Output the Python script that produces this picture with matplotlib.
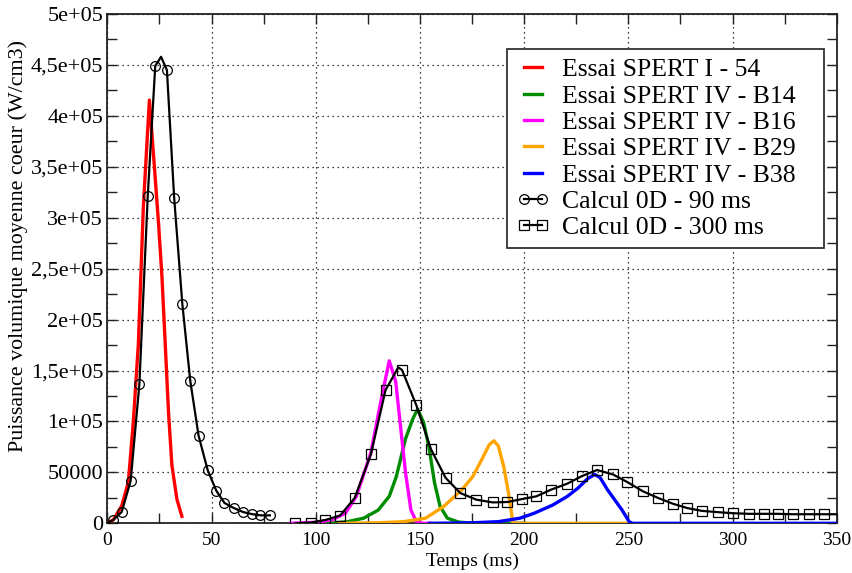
import matplotlib
matplotlib.use("Agg")
import matplotlib.pyplot as plt
from matplotlib.ticker import FixedLocator, MultipleLocator

plt.rcParams['font.family'] = ['Liberation Serif', 'DejaVu Serif']

# ---------------- data ----------------
t_54 = [0, 2.9, 6.9, 10.1, 12.5, 14.9, 17.3, 20.2, 22.2, 24.6, 26.2, 27.8, 29.4, 31.0, 33.4, 35.8]
p_54 = [0, 3.4e3, 17e3, 40.5e3, 100e3, 175.7e3, 310.8e3, 415.5e3, 361e3, 294e3, 243e3, 176e3, 108e3, 57e3, 23.6e3, 6.8e3]

t_b14 = [105.6, 115, 123, 130, 135.3, 138.7, 143.1, 146.6, 148.9, 151.8, 154.5, 157, 159.7, 163.2, 168.4, 175, 200]
p_b14 = [0, 1.5e3, 5e3, 13e3, 26.5e3, 46e3, 83e3, 102.6e3, 112e3, 99e3, 73e3, 40e3, 16.5e3, 5e3, 1.3e3, 0, 0]

t_b16 = [88, 100, 108, 114.3, 119.5, 126.5, 130.9, 133.5, 135.3, 138.4, 140.5, 143.1, 145.7, 148.3, 151, 155]
p_b16 = [0, 1e3, 3.5e3, 10e3, 26.5e3, 69.5e3, 116e3, 142e3, 159.5e3, 139e3, 99e3, 49.7e3, 13e3, 1.6e3, 0, 0]

t_b29 = [111.4, 130, 142.2, 152.7, 161.4, 170.2, 175.4, 179.8, 183.2, 185.5, 187.6, 190.2, 192.5, 194.2, 194.6, 250.4]
p_b29 = [0, 0.5e3, 1.6e3, 5e3, 16.5e3, 33e3, 46e3, 63e3, 77e3, 81e3, 76e3, 56e3, 30e3, 6.6e3, 0, 0]

t_b38 = [154.5, 175, 187.6, 198, 205, 213.8, 220.8, 226, 230.4, 233.9, 236.5, 240, 243.5, 247, 250.4, 252, 350]
p_b38 = [0, 0.5e3, 1.6e3, 5e3, 10e3, 18e3, 26.5e3, 34.8e3, 43.7e3, 48e3, 44.7e3, 33e3, 23e3, 13e3, 1.6e3, 0, 0]

t_90 = [0, 2.9, 6.9, 11.2, 15.4, 19.4, 23.0, 25.8, 28.6, 32.1, 36.0, 39.8, 43.8, 48.2, 52.3, 56.2,
        60.7, 65.2, 69.5, 73.5, 78.0]
p_90 = [0, 3.4e3, 11.1e3, 41.5e3, 136.8e3, 321e3, 449e3, 458e3, 445e3, 319e3, 215.5e3, 140e3, 86e3,
        52e3, 32e3, 20e3, 15e3, 11e3, 9e3, 7.8e3, 7.8e3]
mk_90 = [1, 2, 3, 4, 5, 6, 8, 9, 10, 11, 12, 13, 14, 15, 16, 17, 18, 19, 20]

t_300 = [90.2, 97.7, 104.7, 111.7, 118.7, 126.5, 133.5, 139.6, 141.4, 148.3, 155.3, 162.3, 169.3, 177.1,
         185.0, 192.0, 199.0, 205.9, 212.9, 220.8, 227.7, 235.0, 242.6, 249.6, 257.0, 264.4, 271.4,
         278.4, 285.3, 293.2, 300.2, 308.0, 315.0, 322.0, 329.0, 336.8, 343.8, 350.0]
p_300 = [0, 0.7e3, 3.3e3, 7.6e3, 24.8e3, 67.9e3, 130.7e3, 153e3, 150.6e3, 115.9e3, 72.8e3, 44.7e3,
         29.8e3, 23.2e3, 20.5e3, 20.9e3, 23.8e3, 26.5e3, 33e3, 39e3, 46.3e3, 52.3e3, 48e3, 40.4e3,
         31.4e3, 24.8e3, 19.2e3, 14.9e3, 12.2e3, 10.9e3, 9.9e3, 9.3e3, 9.3e3, 9.3e3, 8.9e3, 8.9e3,
         8.9e3, 8.9e3]
mk_300 = [i for i in range(len(t_300)) if i not in (7, len(t_300) - 1)]

labels = ["Essai SPERT I - 54", "Essai SPERT IV - B14", "Essai SPERT IV - B16",
          "Essai SPERT IV - B29", "Essai SPERT IV - B38", "Calcul 0D - 90 ms", "Calcul 0D - 300 ms"]

x_ticks = [0, 50, 100, 150, 200, 250, 300, 350]
y_ticks = [0, 50000, 100000, 150000, 200000, 250000, 300000, 350000, 400000, 450000, 500000]
y_tick_labels = ['0', '50000', '1e+05', '1,5e+05', '2e+05', '2,5e+05', '3e+05', '3,5e+05',
                 '4e+05', '4,5e+05', '5e+05']

# ---------------- figure ----------------
fig = plt.figure(figsize=(8.52, 5.73), dpi=100)
ax = fig.add_axes([107.3 / 852, 1 - 523.3 / 573, (836.7 - 107.3) / 852, (523.3 - 14) / 573])

lw_exp = 2.4
ax.plot(t_54, p_54, color='#ff0000', lw=lw_exp, label=labels[0], zorder=3)
ax.plot(t_b14, p_b14, color='#008c00', lw=lw_exp, label=labels[1], zorder=3)
ax.plot(t_b16, p_b16, color='#ff00ff', lw=lw_exp, label=labels[2], zorder=3)
ax.plot(t_b29, p_b29, color='#ffa500', lw=lw_exp, label=labels[3], zorder=3)
ax.plot(t_b38, p_b38, color='#0000ff', lw=lw_exp, label=labels[4], zorder=3)
ax.plot(t_90, p_90, color='black', lw=1.6, marker='o', markersize=7, markerfacecolor='none',
        markeredgewidth=0.9, markevery=mk_90, label=labels[5], zorder=4)
ax.plot(t_300, p_300, color='black', lw=1.6, marker='s', markersize=7, markerfacecolor='none',
        markeredgewidth=0.9, markevery=mk_300, label=labels[6], zorder=4)

ax.set_xlim(0, 350)
ax.set_ylim(0, 500000)
ax.xaxis.set_major_locator(FixedLocator(x_ticks))
ax.xaxis.set_minor_locator(MultipleLocator(25))
ax.yaxis.set_major_locator(FixedLocator(y_ticks))
ax.yaxis.set_minor_locator(MultipleLocator(25000))
ax.set_yticklabels(y_tick_labels)
ax.set_xticklabels([str(v) for v in x_ticks])

ax.tick_params(which='both', direction='in', top=True, right=True, color='#222222', width=1.0)
ax.tick_params(which='major', length=7)
ax.tick_params(which='minor', length=7)
ax.tick_params(axis='x', which='major', labelsize=14, pad=6)
ax.tick_params(axis='y', which='major', labelsize=16, pad=3)

ax.grid(True, which='major', color='black', linestyle=(0, (1, 3)), linewidth=0.9)
for s in ax.spines.values():
    s.set_linewidth(1.3)
    s.set_color('#222222')

ax.set_xlabel("Temps (ms)", fontsize=14)
ax.xaxis.set_label_coords(0.5, -0.058)
ax.set_ylabel("Puissance volumique moyenne coeur (W/cm3)", fontsize=15.8)
ax.yaxis.set_label_coords(-0.1087, 0.5445)

leg = ax.legend(loc='upper left', bbox_to_anchor=(0.548, 0.9307, 0.4346, 0), mode='expand',
                borderaxespad=0, fontsize=18.5, numpoints=2, handlelength=1.3, handletextpad=0.5,
                labelspacing=0.13, borderpad=0.35, fancybox=False, framealpha=1,
                edgecolor='#333333')
leg.get_frame().set_linewidth(1.3)

fig.savefig("out.png", dpi=100)
